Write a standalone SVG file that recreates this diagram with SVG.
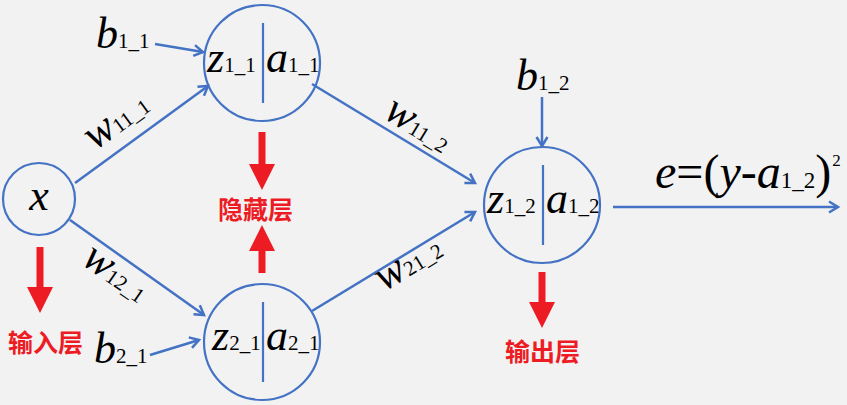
<svg xmlns="http://www.w3.org/2000/svg" width="847" height="405" viewBox="0 0 847 405">
<defs>
<marker id="ah" markerUnits="userSpaceOnUse" markerWidth="16" markerHeight="16" refX="13" refY="8" orient="auto">
<path d="M4,2.5 L13,8 L4,13.5" fill="none" stroke="#4472C4" stroke-width="2.5" stroke-linejoin="miter"/>
</marker>
</defs>
<style>
.node{fill:none;stroke:#4472C4;stroke-width:2.2}
.div{stroke:#4472C4;stroke-width:2.2}
.conn{fill:none;stroke:#4472C4;stroke-width:2.5;marker-end:url(#ah)}
.red{fill:#ED1C24}
</style>
<rect x="0" y="0" width="847" height="405" fill="#F2F2F2"/>
<g id="connectors">
<line class="conn" x1="155" y1="44" x2="203" y2="52"/>
<line class="conn" x1="75" y1="183" x2="208" y2="86"/>
<line class="conn" x1="70" y1="220" x2="204" y2="315"/>
<line class="conn" x1="150" y1="355" x2="199" y2="340"/>
<line class="conn" x1="312" y1="84" x2="475" y2="183"/>
<line class="conn" x1="312" y1="311" x2="475" y2="212"/>
<line class="conn" x1="542" y1="97" x2="542" y2="146"/>
<line class="conn" x1="613" y1="207" x2="838" y2="207"/>
</g>
<g font-family="Liberation Serif, serif" font-size="44" fill="#000">
<g id="node-x">
<circle class="node" cx="39" cy="199" r="36"/>
<text x="39" y="210" text-anchor="middle" font-style="italic">x</text>
</g>
<g id="node-1_1">
<circle class="node" cx="262" cy="63" r="58"/>
<line class="div" x1="263" y1="23" x2="263" y2="103"/>
<text x="207" y="72"><tspan font-style="italic">z</tspan><tspan font-size="21">1_1</tspan></text>
<text x="266" y="72"><tspan font-style="italic">a</tspan><tspan font-size="21">1_1</tspan></text>
</g>
<g id="node-2_1">
<circle class="node" cx="262" cy="342" r="58"/>
<line class="div" x1="263" y1="302" x2="263" y2="382"/>
<text x="212" y="350"><tspan font-style="italic">z</tspan><tspan font-size="21">2_1</tspan></text>
<text x="266" y="350"><tspan font-style="italic">a</tspan><tspan font-size="21">2_1</tspan></text>
</g>
<g id="node-1_2">
<circle class="node" cx="542" cy="205" r="58"/>
<line class="div" x1="543" y1="165" x2="543" y2="245"/>
<text x="487" y="213"><tspan font-style="italic">z</tspan><tspan font-size="21">1_2</tspan></text>
<text x="546" y="213"><tspan font-style="italic">a</tspan><tspan font-size="21">1_2</tspan></text>
</g>
<g id="labels">
<text x="96" y="48"><tspan font-style="italic">b</tspan><tspan font-size="21">1_1</tspan></text>
<text x="94" y="363"><tspan font-style="italic">b</tspan><tspan font-size="21">2_1</tspan></text>
<text x="516" y="90"><tspan font-style="italic">b</tspan><tspan font-size="21">1_2</tspan></text>
<text transform="translate(95,151) rotate(-36)"><tspan font-style="italic">w</tspan><tspan font-size="21">11_1</tspan></text>
<text transform="translate(80,263) rotate(35)"><tspan font-style="italic">w</tspan><tspan font-size="21">12_1</tspan></text>
<text transform="translate(382,117) rotate(31.5)"><tspan font-style="italic">w</tspan><tspan font-size="21">11_2</tspan></text>
<text transform="translate(384,292) rotate(-31.5)"><tspan font-style="italic">w</tspan><tspan font-size="21">21_2</tspan></text>
<text x="655" y="188" font-size="48"><tspan font-style="italic">e</tspan>=(<tspan font-style="italic">y</tspan>-<tspan font-style="italic">a</tspan><tspan font-size="23">1_2</tspan>)<tspan font-size="17" dx="1" dy="-22">2</tspan></text>
</g>
</g>
<g font-family="Noto Sans CJK SC, sans-serif" font-size="25" font-weight="bold" fill="#ED1C24">
<g id="layer-input">
<path class="red" d="M36.5,247 H43.5 V287 H53 L40,313 L27,287 H36.5 Z"/>
<text x="8" y="352">输入层</text>
</g>
<g id="layer-hidden">
<path class="red" d="M258.5,132 H265.5 V164 H275 L262,190 L249,164 H258.5 Z"/>
<path class="red" d="M258.5,273 H265.5 V251 H275 L262,225 L249,251 H258.5 Z"/>
<text x="218" y="219">隐藏层</text>
</g>
<g id="layer-output">
<path class="red" d="M538.5,272 H545.5 V302 H555 L542,328 L529,302 H538.5 Z"/>
<text x="505" y="361">输出层</text>
</g>
</g>
</svg>
